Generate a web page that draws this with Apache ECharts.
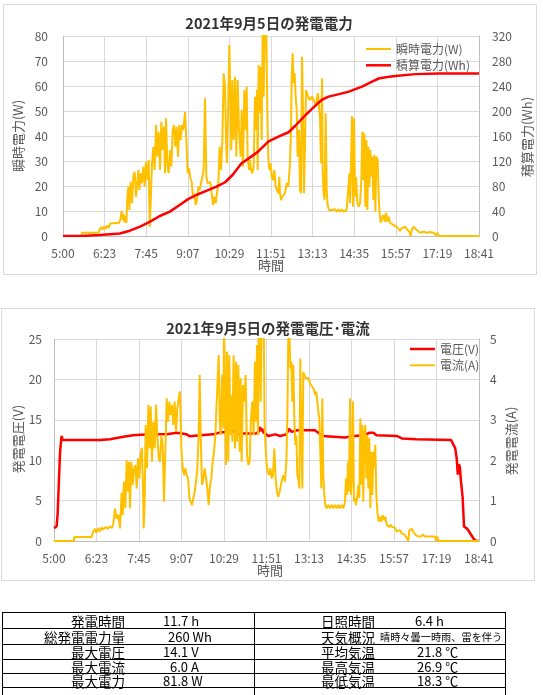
<!DOCTYPE html>
<html><head><meta charset="utf-8">
<script src="https://cdn.jsdelivr.net/npm/echarts@6/dist/echarts.min.js"></script>
<style>
html,body{margin:0;padding:0;background:#fff;}
#chart{position:absolute;left:0;top:0;width:543px;height:695px;}
#tbl{position:absolute;left:0;top:0;width:543px;height:695px;overflow:hidden;font-family:'Noto Sans CJK JP',sans-serif;color:#000;}
#tbl div{position:absolute;white-space:nowrap;}
</style></head><body>
<div id="chart"></div>
<div id="tbl"></div>
<script>
// time axis: minutes after 5:00
const tickLabels = ['5:00','6:23','7:45','9:07','10:29','11:51','13:13','14:35','15:57','17:19','18:41'];
const X_MAX = 821, X_STEP = 82.1;

// [minutes after 5:00, W]
const powerSamples = [[0,0],[37,0],[37.5,1.3],[71,1.3],[72,2.5],[75,3.5],[78,2.6],[81,3.8],[84,2.8],[87,4.2],[90,3.2],[93,5],[96,4.4],[99,5.1],[102,4.3],[105,5.2],[108,4.6],[111,5.3],[113.5,7],[115.8,10],[117.5,6.5],[119.5,9],[121,5.5],[123,8],[125,5.2],
[127,15.7],[129,19.7],[131,10.4],[133.5,21.7],[136.2,13.1],[138.8,23.7],[141.4,25.7],[144.1,15.7],[146.7,21.7],[148.7,26.4],[150.7,18.4],[153.3,25.1],[155.9,21.1],[158.6,27.7],[161.2,19.7],[163.8,29.7],[166.4,22.4],[169.1,30.4],[171.1,3.7],[173,13.1],[175.7,29.1],[178.3,35.7],[180.9,26.4],[183.6,44.4],[186.2,31.7],[188.8,41.7],[191.4,26.4],[194.1,45.7],[196.7,34.4],[199.3,43.7],[201.3,25.1],[203.3,47.1],[205.9,29.1],[208.6,25.1],[211.2,34.4],[213.8,27.7],[216.5,42.4],[219.1,44.4],[221.7,35.7],[224.3,43.7],[227,31.7],[229.6,44.4],[232.2,38.4],[234.9,44.4],[237.5,42.4],[240.8,49.7],[243.4,38.4],[246.1,25.1],[248.7,27.1],[251.3,23.1],[254,21.7],[256.6,15.1],[259.2,17.1],[261.8,12.4],[264.5,14.4],[267.1,19.7],[269.7,18.4],[272.4,21.1],[275,23.7],[277.6,26.4],[280.3,55.1],[282.9,23.7],[285.5,21.1],[288.2,20.4],[290.8,21.7],[293.4,17.1],[296,12.4],[298.7,15.7],[301.3,13.1],[303.9,17.1],[306.6,21.1],[309.2,35.7],[311.8,26.4],[314.5,38.4],[317.1,65.1],[319.7,59.7],[321.7,38.4],[323.7,29.1],[325.7,49.1],[328.3,76.4],[330.3,55.7],[332.2,34.4],[334.2,62.4],[336.8,38.4],[339.5,63.7],[342.1,31.7],[344.7,62.4],[347.4,42.4],
[350.6,31.7],[352.6,50.4],[355.2,27.7],[357.9,58.4],[360.5,42.4],[362.5,59.7],[364.4,31.7],[367.1,26.4],[369,30.4],[371,26.4],[373.6,25.1],[376.3,27.7],[378.9,55.7],[380.9,42.4],[382.9,58.4],[384.2,26.4],[386.1,68.4],[388.1,49.1],[390.1,67.7],[392.1,38.4],[394,81.8],[396,55.7],[398,81],[400,74.4],[401.3,81],[403.3,49.1],[405.2,31.7],[407.2,26.4],[409.8,29.1],[411.8,23.7],[414.4,22.4],[417.1,26.4],[419.7,19.7],[422.3,18.4],[425,17.1],[427,23.7],[428.3,17.1],[430.2,14.4],[432.9,15.7],[434.8,15.1],[438.1,17.1],[441.4,21.1],[444.7,19.7],[448,29.1],[450,42.4],[451.3,62.4],[453.3,73.1],[455.2,61.1],[457.2,65.1],[459.2,55.7],[461.2,50.4],[463.1,31.7],[465.8,42.4],[467.7,18.4],[469.7,17.1],[471.7,71.7],[473.7,49.1],[475.6,17.1],[477.6,35.7],[479.6,58.4],[481.5,57.1],[484.2,55.7],[486.8,54.4],[489.4,53.7],[492.1,55.7],[494.7,54.4],[497.3,53.7],[499.3,51.7],[501.3,55.7],[503.3,57.1],[505.2,51.7],[507.2,47.7],[509.2,29.1],[511.2,63.1],[512.5,26.4],[514.4,17.1],[516.4,14.4],[518.4,49.1],[520.4,18.4],[522.3,12.4],[525,10.4],[527.6,9.7],[530.2,10.4],[533.5,9.7],[536.8,10.7],[540.1,9.7],[543.4,10.7],[546.7,9.7],[550,10.7],[553.3,9.7],[556.5,10.4],
[559.9,10.4],[563.2,19.7],[565.2,25.1],[566.5,13.1],[568.4,29.1],[570.4,48],[572.4,11.7],[574.4,47.1],[576.3,15.7],[578.3,23.7],[581,13.1],[583.6,11.7],[586.2,13.1],[588.8,22.4],[590.8,41.7],[592.8,22.4],[594.8,41.1],[596.7,11.7],[598.7,38.4],[600.7,10.4],[602.7,35.7],[604.6,19.7],[606.6,34.4],[608.6,23.7],[610.6,31.7],[612.5,14.4],[614.5,32.4],[616.5,9.7],[618.4,31.7],[621.1,30.4],[623.1,15.7],[625,9.1],[627,5.3],[629.6,7.1],[632.3,8.4],[634.9,5.7],[637.5,9.3],[640.2,5.7],[642.8,7.7],[645.4,5.3],[648.7,5.7],[652,4.4],[655.3,4.7],[658.6,3.7],[661.9,3.7],[665.2,2],[668.4,3.1],[671.7,3.7],[675.7,3.7],[679.6,2.4],[683.6,1.7],[686.2,0],[688.2,2.4],[691.5,3.7],[694.8,3.5],[698.1,2.4],[701.3,1.7],[704.6,1.3],[707.9,2],[711.2,1.7],[717.8,1.3],[724.4,1.6],[731,1.3],[736.2,0.3],[738.8,1.3],[741.5,0],[821,0]];

// [minutes after 5:00, Wh]
const energySamples = [[0,0],[37,0],[73,1.6],[112,4],[132,8.5],[152,15],[172,23],[191,32],[211,39],[231,50],[247,59],[264,66],[284,72.5],[303,79],[320,86],[335,98],[352,116],[368,125],[385,135],[405,151],[425,159],[445,166],[458,176],[478,193],[496,207],[511,218],[524,223],[545,227],[564,231],[590,239],[605,245],[623,252],[640,254.5],[656,256],[695,259],[741,260],[821,260]];

// [minutes after 5:00, V]
const voltageSamples = [[0,1.6],[5,1.8],[7,3.3],[10,3.5],[11.6,10.9],[13.5,12.3],[14.8,13],[16.8,12.5],[89,12.5],[108,12.6],[134,12.9],[153,13.1],[185,13.2],[218,13.2],[237,13.4],[256,13.2],[263,12.95],[282,13.1],[308,13.2],[321,13.45],[340,13.5],[346,13.7],[352,13.2],[360,13.3],[369,13.3],[390,13.3],[395,13.5],[398,14.1],[400,13.6],[402,13.9],[404,13.5],[414,13.0],[427,13.2],[437,13.0],[449,13.2],[454,13.9],[459,13.5],[470,13.7],[504,13.7],[517,13.1],[525,12.95],[562,12.8],[575,12.95],[598,13.1],[610,13.4],[617,13.4],[623,13.1],[662,13.0],[672,12.7],[700,12.6],[767,12.5],[775,11.5],[778,10.2],[780,8.2],[782,9.5],[784,9.2],[786,7.5],[789.5,5.3],[792,1.8],[798.5,1.5],[802,1.15],[811,0.25],[815,0],[821,0]];

// [minutes after 5:00, A]
const currentSamples = [[0,0],[38.6,0],[39,0.1],[72.8,0.1],[76,0.24],[79,0.3],[82,0.2],[85.6,0.32],[89,0.24],[92,0.34],[95,0.28],[100,0.35],[104,0.3],[108,0.36],[112,0.32],[114.6,0.43],[117.8,0.8],[121,0.55],[124.3,0.65],[127.5,0.31],[130.7,1.2],[132.7,0.64],[135.3,1.47],[137.8,0.81],[140.4,2.0],[143,1.22],[144.9,1.96],[146.8,0.81],[149.4,1.96],[152,1.39],[154.6,1.8],[157.2,1.88],[159.7,1.3],[162.3,2.05],[164.9,1.55],[167.5,2.15],[170,2.31],[172,1.3],[173.2,0.31],[175.2,0.97],[177.1,2.87],[179.7,1.8],[182.3,3.37],[184.8,2.29],[186.8,3.33],[189.3,1.96],[191.9,2.95],[194.5,2.29],[197.1,3.37],[199.6,2.62],[202.2,2.05],[204.8,1.96],[207.4,2.62],[210,2.38],[212.5,0.97],[215.1,2.21],[217.7,3.53],[220.3,2.95],[222.8,3.45],[225.4,3.12],[228,3.37],[230.6,2.87],[233.1,3.45],[235.7,2.71],[238.3,3.28],[240.9,3.53],[243.4,3.7],[246,2.29],[248.6,1.8],[251.2,1.63],[253.7,1.8],[256.3,1.63],[258.9,1.55],[261.5,1.06],[264,0.97],[266.6,0.89],[269.2,1.06],[271.8,1.22],[274.3,1.47],[276.9,1.8],[279.5,2.62],[281.4,4.11],[283.4,2.62],[285.9,1.39],[288.5,1.55],[291.1,1.8],[293.7,1.55],[296.2,1.3],[298.8,0.89],[301.4,1.39],[304,1.55],[306.5,1.96],[309.1,2.21],[311.7,2.62],[314.3,3.45],[316.2,4.03],[318.1,4.6],[320.1,3.0],[322,2.62],[324.6,4.11],[327.1,2.79],[328.5,5.8],[330.3,3.45],[332.2,1.88],[334.2,4.69],[336.7,1.96],[338.7,4.6],[340.6,2.62],[342.5,3.61],[344.5,2.46],[347,4.6],[349.6,2.29],[351.5,4.44],[353.5,2.46],[356,4.36],[358.6,2.21],[360.6,4.03],[362.5,1.96],[365.1,3.86],[367.6,3.45],[370.2,4.11],[372.8,2.13],[375.4,1.88],[377.9,1.96],[380.5,3.03],[383.1,3.45],[385.7,2.62],[388.2,4.44],[390.2,2.95],[392.1,4.85],[394.1,2.62],[395.3,5.5],[397.3,4.93],[399.2,3.45],[401.1,5.5],[403.1,5.3],[405,5.5],[406.9,2.87],[408.9,2.29],[410.8,1.88],[412.7,1.71],[415.3,1.63],[417.9,1.8],[420.5,1.55],[423,1.63],[425.6,2.29],[428.2,1.55],[430.7,1.22],[433.3,1.09],[435.9,1.22],[438.5,1.39],[441,1.55],[443.6,1.63],[446.2,1.47],[448.8,1.96],[450.7,3.03],[452.6,5.0],[454.6,5.3],[456.5,4.27],[458.4,4.44],[460.4,3.45],[462.3,4.36],[464.2,3.03],[466.2,2.38],[468.1,2.62],[470,1.63],[472,1.55],[473.9,1.3],[475.8,4.52],[477.8,2.62],[479.7,1.3],[481.6,4.19],[483.5,4.11],[486.1,4.03],[488.7,3.99],[491.3,4.03],[493.8,3.94],[496.4,3.86],[499,3.9],[500.9,3.78],[502.9,3.7],[504.8,3.61],[506.7,3.7],[508.7,3.45],[510.6,3.2],[512.5,3.03],[514.5,2.21],[516.4,1.3],[518.3,3.53],[520.3,1.63],[522.2,1.14],[524.1,0.89],[526.7,0.81],[529.9,0.89],[533.1,0.81],[536.4,0.89],[539.6,0.81],[542.8,0.89],[546,0.81],[549.2,0.89],[552.4,0.81],[555.7,0.89],[558.9,0.81],[562.1,0.97],[564,1.55],[566,1.14],[567.9,1.96],[569.8,1.22],[571.8,3.53],[573.7,1.14],[575.7,1.63],[577.6,3.45],[579.5,0.97],[581.5,1.06],[583.4,0.89],[586,1.14],[587.9,1.39],[589.8,1.06],[591.8,3.03],[593.7,1.39],[595.6,2.87],[597.6,0.97],[599.5,2.71],[601.4,2.87],[603.4,1.55],[605.3,2.62],[607.2,1.3],[609.1,2.54],[611.1,0.81],[613,2.21],[614.9,1.14],[616.9,2.21],[618.8,1.8],[620.7,2.38],[622.7,1.14],[624.6,0.73],[627.2,0.48],[629.8,0.6],[632.3,0.48],[634.9,0.64],[637.5,0.52],[640.1,0.6],[642.6,0.4],[645.2,0.44],[647.8,0.35],[650.4,0.4],[652.9,0.35],[655.5,0.31],[658.7,0.33],[662,0.23],[665.2,0.21],[668.4,0.27],[671.6,0.19],[674.8,0.23],[678,0.15],[681.3,0.19],[684.5,0],[686.4,0.27],[690.9,0.3],[694.1,0.23],[698,0.16],[701.9,0.12],[705.7,0.16],[709.6,0.11],[712.2,0.16],[716.7,0.11],[736,0.11],[737.9,0],[740.5,0.11],[742.4,0],[821,0]];

const titles = ['2021年9月5日の発電電力', '2021年9月5日の発電電圧･電流'];
const seriesNames = ['瞬時電力(W)', '積算電力(Wh)', '電圧(V)', '電流(A)'];
const axisNames = ['瞬時電力(W)', '積算電力(Wh)', '発電電圧(V)', '発電電流(A)', '時間'];

// summary table
const leftLabels = ['発電時間','総発電電力量','最大電圧','最大電流','最大電力'];
const leftValues = ['11.7 h','260 Wh','14.1 V','6.0 A','81.8 W'];
const rightLabels = ['日照時間','天気概況','平均気温','最高気温','最低気温'];
const rightValues = ['6.4 h','晴時々曇一時雨、雷を伴う','21.8 ℃','26.9 ℃','18.3 ℃'];

const FONT = "'Noto Sans CJK JP','Noto Sans',sans-serif";
const ORANGE = '#FFC000', RED = '#FF0000';
const LBL = '#595959', GRID = '#d9d9d9', AXL = '#bfbfbf';
// legend line icons (thin bars keeping aspect inside the item box)
const ICON_THIN = 'path://M0 0H125V10H0Z';
const ICON_THICK = 'path://M0 0H100V10H0Z';

function xAxisCfg(gi){
  return {type:'value', gridIndex:gi, min:0, max:X_MAX, interval:X_STEP,
    axisLine:{show:true, onZero:false, lineStyle:{color:AXL, width:1}},
    axisTick:{show:false},
    splitLine:{show:true, lineStyle:{color:GRID, width:1}},
    axisLabel:{color:LBL, fontSize:12, fontFamily:FONT, margin:11, hideOverlap:false,
      formatter: v => tickLabels[Math.round(v / X_STEP)] }};
}
function yAxisCfg(gi, pos, max, step, split, margin){
  return {type:'value', gridIndex:gi, position:pos, min:0, max:max, interval:step,
    axisLine:{show:true, onZero:false, lineStyle:{color:AXL, width:1}},
    axisTick:{show:false},
    splitLine:{show:split, lineStyle:{color:GRID, width:1}},
    axisLabel:{color:LBL, fontSize:12, fontFamily:FONT, margin:margin}};
}
function lineSeries(name, xi, yi, data, color, width, z){
  return {name:name, type:'line', xAxisIndex:xi, yAxisIndex:yi, data:data,
    showSymbol:false, symbol:'none', clip:true, z:z,
    lineStyle:{color:color, width:width}, itemStyle:{color:color}};
}
function txt(text, x, y, size, weight, color, rot){
  return {type:'text', x:x, y:y, rotation:rot || 0, z:10,
    style:{text:text, fill:color, font:(weight||'normal') + ' ' + size + 'px ' + FONT,
      align:'center', verticalAlign:'middle', textAlign:'center', textVerticalAlign:'middle'}};
}
function legendCfg(names, icons, left, top){
  return {data:names.map((n,i) => ({name:n, icon:icons[i]})), orient:'vertical', left:left, top:top,
    itemWidth:25, itemHeight:14, itemGap:4.3, padding:0, symbolKeepAspect:true,
    textStyle:{color:LBL, fontSize:12, fontFamily:FONT}};
}

const chart = echarts.init(document.getElementById('chart'), null, {renderer:'canvas'});
chart.setOption({
  animation:false,
  backgroundColor:'#fff',
  textStyle:{fontFamily:FONT},
  grid:[
    {left:63, top:36, width:416, height:200, outerBoundsMode:'none'},
    {left:54, top:339, width:425, height:202, outerBoundsMode:'none'}
  ],
  xAxis:[xAxisCfg(0), xAxisCfg(1)],
  yAxis:[
    yAxisCfg(0,'left',80,10,true,15),
    yAxisCfg(0,'right',320,40,false,13),
    yAxisCfg(1,'left',25,5,true,12),
    yAxisCfg(1,'right',5,1,false,11)
  ],
  legend:[
    legendCfg([seriesNames[0], seriesNames[1]], [ICON_THIN, ICON_THICK], 366, 43),
    legendCfg([seriesNames[2], seriesNames[3]], [ICON_THICK, ICON_THIN], 410, 343)
  ],
  series:[
    lineSeries(seriesNames[0], 0, 0, powerSamples, ORANGE, 2, 2),
    lineSeries(seriesNames[1], 0, 1, energySamples, RED, 2.5, 3),
    lineSeries(seriesNames[2], 1, 2, voltageSamples, RED, 2.5, 2),
    lineSeries(seriesNames[3], 1, 3, currentSamples, ORANGE, 2, 3)
  ],
  graphic:[
    {type:'rect', shape:{x:3.5, y:4.5, width:533, height:270}, style:{fill:'none', stroke:GRID, lineWidth:1}, z:0},
    {type:'rect', shape:{x:1.5, y:308.5, width:533, height:272}, style:{fill:'none', stroke:GRID, lineWidth:1}, z:0},
    txt(titles[0], 269, 23, 14.5, 'bold', '#333'),
    txt(titles[1], 268, 328, 14.5, 'bold', '#333'),
    txt(axisNames[0], 18, 136, 13, 'normal', LBL, Math.PI/2),
    txt(axisNames[1], 527, 137, 13, 'normal', LBL, Math.PI/2),
    txt(axisNames[2], 18, 439, 13, 'normal', LBL, Math.PI/2),
    txt(axisNames[3], 511, 441, 13, 'normal', LBL, Math.PI/2),
    txt(axisNames[4], 271, 265, 13, 'normal', LBL),
    txt(axisNames[4], 270, 570, 13, 'normal', LBL)
  ]
});

// summary table (HTML text)
(function(){
  const box = document.getElementById('tbl');
  const rowsY = [612, 628, 644, 659, 673, 687];
  const xL = 2, xM = 254, xR = 505;
  function line(x, y, w, h){
    const d = document.createElement('div');
    d.style.cssText = 'left:'+x+'px;top:'+y+'px;width:'+w+'px;height:'+h+'px;background:#000;';
    box.appendChild(d);
  }
  function text(t, x, yc, size, alignRight){
    const d = document.createElement('div');
    d.textContent = t;
    d.style.fontSize = size + 'px';
    d.style.lineHeight = '16px';
    d.style.top = (yc - 8) + 'px';
    if (alignRight) { d.style.right = (543 - x) + 'px'; } else { d.style.left = x + 'px'; }
    box.appendChild(d);
  }
  rowsY.forEach(y => line(xL, y, xR - xL + 1, 1));
  [xL, xM, xR].forEach(x => line(x, rowsY[0], 1, 695 - rowsY[0]));
  const lvx = [163,168,163,170,163];
  const rvx = [415,380,417,417,417];
  for (let i = 0; i < leftLabels.length; i++){
    const yc = (rowsY[i] + rowsY[i+1]) / 2 + 0.5;
    text(leftLabels[i], 125, yc, 13.5, true);
    text(leftValues[i], lvx[i], yc, 13, false);
    text(rightLabels[i], 321, yc, 13.5, false);
    text(rightValues[i], rvx[i], yc, i === 1 ? 10.2 : 13, false);
  }
})();
</script>
</body></html>
